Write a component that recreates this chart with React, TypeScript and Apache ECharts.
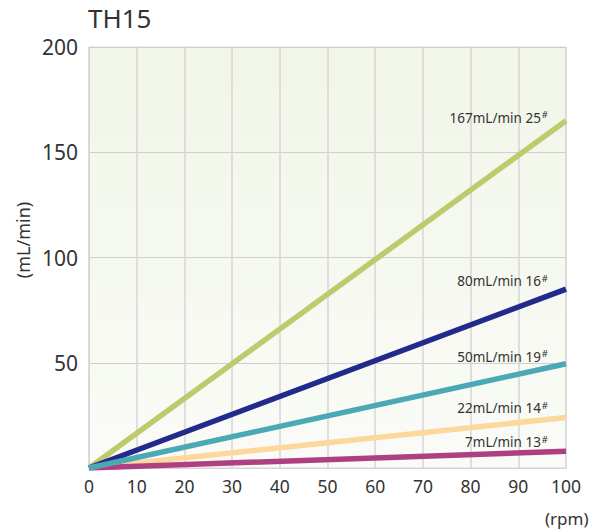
import React, { useEffect, useRef } from "react";
import * as echarts from "echarts";

const rpm = [0, 100];
const names = ["167mL/min 25", "80mL/min 16", "50mL/min 19", "22mL/min 14", "7mL/min 13"];
const flow25 = [0, 165];
const flow16 = [0, 85];
const flow19 = [0, 49.5];
const flow14 = [0, 24];
const flow13 = [0, 8];
const colors = ["#bccb6e", "#222a8b", "#4ba9b6", "#fcd89c", "#ae4081"];
const xTicks = [0, 10, 20, 30, 40, 50, 60, 70, 80, 90, 100];
const yTicks = [0, 50, 100, 150, 200];

const FONT = "'Noto Sans', 'Open Sans', sans-serif";

export default function App() {
  const ref = useRef<HTMLDivElement>(null);
  useEffect(() => {
    const chart = echarts.init(ref.current!, null, { renderer: "svg" });
    const labelDy = [3, 8, 7, 9, 9];
    const series = [flow25, flow16, flow19, flow14, flow13].map((vals, i) => ({
      type: "line",
      name: names[i],
      symbol: "circle",
      symbolSize: 0,
      showSymbol: true,
      z: i === 2 ? 5 : 3,
      lineStyle: { color: colors[i], width: 5.5, cap: "butt" },
      itemStyle: { color: colors[i] },
      data: vals.map((v, j) => ({
        value: [rpm[j], v],
        label:
          j === vals.length - 1
            ? {
                show: true,
                position: [-18, -labelDy[i]],
                align: "right",
                verticalAlign: "middle",
                formatter: `{a|${names[i]}}{s|#}`,
                rich: {
                  a: { fontSize: 13.5, color: "#333", fontFamily: FONT },
                  s: { fontSize: 9.5, color: "#333", fontFamily: FONT, verticalAlign: "top", padding: [0, 0, 6, 1] },
                },
              }
            : { show: false },
      })),
    }));
    chart.setOption({
      animation: false,
      textStyle: { fontFamily: FONT },
      grid: {
        left: 89,
        right: 27,
        top: 47,
        bottom: 64,
        show: true,
        borderColor: "#d9d9d9",
        borderWidth: 1,
        backgroundColor: new echarts.graphic.LinearGradient(0, 0, 0, 1, [
          { offset: 0, color: "#f1f6e8" },
          { offset: 1, color: "#fafbf7" },
        ]),
      },
      xAxis: {
        type: "value",
        min: xTicks[0],
        max: xTicks[xTicks.length - 1],
        interval: 10,
        axisLine: { show: true, lineStyle: { color: "#d4d4d4", width: 1 } },
        axisTick: { show: false },
        axisLabel: { color: "#333", fontSize: 17.5, margin: 9, fontFamily: FONT },
        splitLine: { show: true, lineStyle: { color: "#d6d6d6", width: 1.5 } },
      },
      yAxis: {
        type: "value",
        min: yTicks[0],
        max: yTicks[yTicks.length - 1],
        interval: 50,
        axisLine: { show: true, lineStyle: { color: "#d4d4d4", width: 1 } },
        axisTick: { show: false },
        axisLabel: {
          color: "#333",
          fontSize: 21,
          margin: 11,
          fontFamily: FONT,
          formatter: (v: number) => (v === 0 ? "" : String(v)),
        },
        splitLine: { show: true, lineStyle: { color: "#cfcfcf", width: 1 } },
      },
      graphic: [
        {
          type: "text",
          x: 88,
          y: 18,
          style: { text: "TH15", fontSize: 26, fill: "#333", fontFamily: FONT, verticalAlign: "middle" },
        },
        {
          type: "text",
          x: 23,
          y: 240,
          rotation: Math.PI / 2,
          style: {
            text: "(mL/min)",
            fontSize: 18,
            fill: "#333",
            fontFamily: FONT,
            align: "center",
            verticalAlign: "middle",
          },
        },
        {
          type: "text",
          x: 545,
          y: 518,
          style: { text: "(rpm)", fontSize: 17, fill: "#333", fontFamily: FONT, verticalAlign: "middle" },
        },
      ],
      series,
    });
    return () => chart.dispose();
  }, []);
  return <div ref={ref} style={{ width: 593, height: 532, position: "absolute", left: 0, top: 0 }} />;
}
